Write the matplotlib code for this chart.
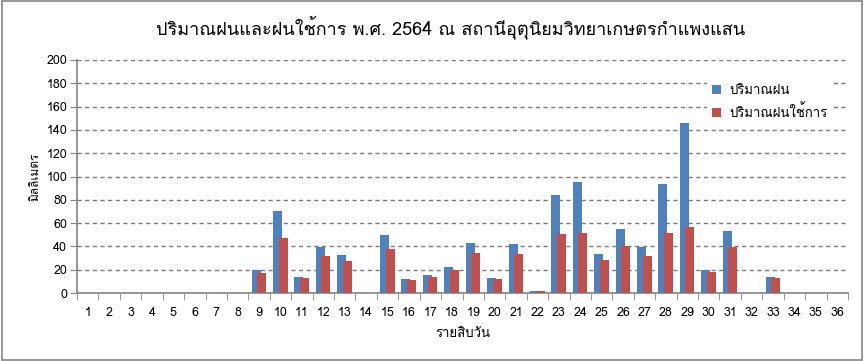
import numpy as np
import matplotlib
matplotlib.use("Agg")
import matplotlib.pyplot as plt
from matplotlib import font_manager
from matplotlib.ft2font import FT2Font
from matplotlib.patches import Rectangle

# ข้อมูลรายสิบวัน (อ่านจากกราฟ)
days = list(range(1, 37))
rain = [0, 0, 0, 0, 0, 0, 0, 0, 19.6, 70.4, 13.7, 39.5, 32.6, 0, 49.8, 12.0, 15.5, 22.3,
        42.9, 12.9, 41.9, 1.7, 83.8, 95.7, 33.3, 54.7, 39.3, 93.2, 146.2, 19.7, 53.0, 0,
        13.7, 0, 0, 0]
rain_eff = [0, 0, 0, 0, 0, 0, 0, 0, 17.2, 47.2, 12.9, 31.8, 27.5, 0, 37.8, 11.0, 13.7, 19.7,
            34.3, 12.0, 33.3, 1.7, 50.4, 51.3, 28.2, 40.2, 31.6, 51.3, 56.4, 17.9, 39.3, 0,
            12.8, 0, 0, 0]

TITLE = "ปริมาณฝนและฝนใช้การ พ.ศ. 2564 ณ สถานีอุตุนิยมวิทยาเกษตรกำแพงแสน"
XLABEL = "รายสิบวัน"
YLABEL = "มิลลิเมตร"
LABELS = ["ปริมาณฝน", "ปริมาณฝนใช้การ"]
BLUE = "#4F81BD"
RED = "#C0504D"
GRAY = "#868686"


def find_thai_font():
    """หาฟอนต์ที่มีอักษรไทยในเครื่อง ถ้าไม่มีคืน None"""
    for f in font_manager.fontManager.ttflist:
        try:
            if 0x0E1B in FT2Font(f.fname).get_charmap():
                return f.name
        except Exception:
            pass
    return None


thai = find_thai_font()
family = [thai, "DejaVu Sans"] if thai else ["DejaVu Sans"]
plt.rcParams["font.family"] = family

fig = plt.figure(figsize=(8.64, 3.61), dpi=100)
ax = fig.add_axes([77 / 864, 68 / 361, 771 / 864, 233 / 361])

x = np.array(days)
w = 0.42
ax.bar(x - 0.14, rain, width=w, color=BLUE, label=LABELS[0], zorder=3)
ax.bar(x + 0.12, rain_eff, width=w, color=RED, label=LABELS[1], zorder=4)

ax.set_xlim(0.5, 36.5)
ax.set_ylim(0, 200)
ax.set_yticks(range(0, 201, 20))
ax.set_xticks(x)
ax.set_xticklabels([str(d) for d in days])
ax.set_xticks(np.arange(0.5, 37, 1), minor=True)
ax.tick_params(axis="x", which="major", length=0, labelsize=9, pad=10)
ax.tick_params(axis="x", which="minor", length=5, color=GRAY, direction="out")
ax.tick_params(axis="y", length=5, color=GRAY, labelsize=9, pad=2)

ax.yaxis.grid(True, linestyle=(0, (3, 2.5)), color="#7a7a7a", linewidth=1, zorder=0)
ax.set_axisbelow(True)
for s in ["top", "right"]:
    ax.spines[s].set_visible(False)
for s in ["left", "bottom"]:
    ax.spines[s].set_color(GRAY)
    ax.spines[s].set_linewidth(1.2)

ax.set_xlabel(XLABEL, fontsize=9.5)
ax.xaxis.set_label_coords(0.5, -0.15)
ax.set_ylabel(YLABEL, fontsize=8.5)
ax.yaxis.set_label_coords(-0.048, 0.5)
fig.text(0.521, 0.925, TITLE, ha="center", va="center", fontsize=13)

leg = ax.legend(loc="upper right", bbox_to_anchor=(0.98, 0.915), frameon=True,
                fontsize=9.5, handlelength=0.7, handleheight=0.7, handletextpad=0.6,
                borderaxespad=0, labelspacing=0.55, borderpad=0.4)
leg.get_frame().set_edgecolor("none")
leg.get_frame().set_facecolor("white")
leg.get_frame().set_alpha(1)
leg.set_zorder(5)

fig.patches.append(Rectangle((0.002, 0.003), 0.996, 0.994, transform=fig.transFigure,
                             fill=False, edgecolor=GRAY, linewidth=1.2))

fig.savefig("out.png", dpi=100)
